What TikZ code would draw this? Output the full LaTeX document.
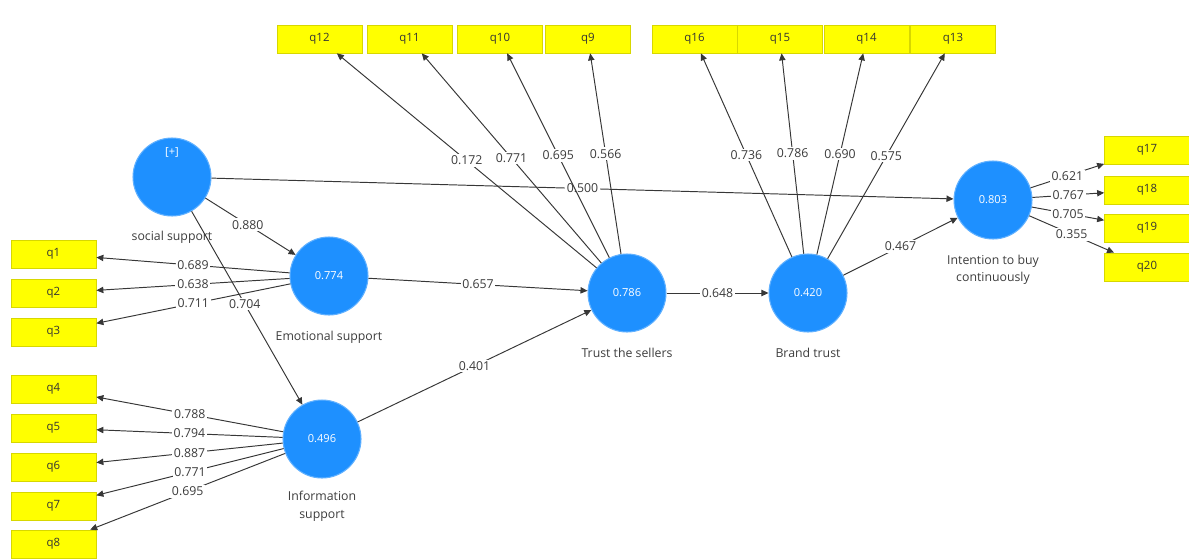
\documentclass[tikz,border=0pt]{standalone}
\usepackage{fontspec}
\setmainfont{Open Sans}
\usetikzlibrary{arrows.meta}
\definecolor{plsblue}{RGB}{30,144,255}
\definecolor{plsyellow}{RGB}{255,255,0}
\definecolor{boxline}{RGB}{215,215,0}
\definecolor{edgecol}{RGB}{55,55,55}
\definecolor{txtcol}{RGB}{60,60,60}
\begin{document}
\begin{tikzpicture}[x=0.02cm,y=-0.02cm,
  latent/.style={circle, fill=plsblue, draw=plsblue!70!white, line width=0.6pt,
    minimum size=1.56cm, inner sep=0pt, text=white, font=\fontsize{6.3}{7.5}\selectfont},
  ind/.style={rectangle, fill=plsyellow, draw=boxline, line width=0.4pt,
    minimum width=1.7cm, minimum height=0.56cm, inner sep=0pt,
    font=\fontsize{6.5}{8}\selectfont, text=black!80},
  captxt/.style={font=\fontsize{7}{10}\selectfont, text=txtcol, align=center},
  conn/.style={draw=edgecol, line width=0.55pt, -{Triangle[length=4pt,width=3.6pt]}},
  wt/.style={fill=white, inner sep=1pt, pos=0.5, font=\fontsize{7}{8}\selectfont, text=txtcol}
]
\useasboundingbox (0,0) rectangle (1189,558);

% latent variables
\node[latent] (soc) at (172,177) {};
\node[text=white, font=\fontsize{6.3}{7.5}\selectfont] (socplus) at (172,152) {[+]};
\node[latent] (emo) at (329,276) {0.774};
\node[latent] (inf) at (322,439) {0.496};
\node[latent] (tru) at (627,293) {0.786};
\node[latent] (bra) at (808,293) {0.420};
\node[latent] (int) at (993,200) {0.803};

% captions
\node[captxt] (socl) at (172,237) {social support};
\node[captxt] (emol) at (329,337) {Emotional support};
\node[captxt] (infl) at (322,506) {Information\\support};
\node[captxt] (trul) at (627,353) {Trust the sellers};
\node[captxt] (bral) at (808,353) {Brand trust};
\node[captxt] (intl) at (993,270) {Intention to buy\\continuously};

% indicators left
\node[ind] (q1) at (53.5,254) {q1};
\node[ind] (q2) at (53.5,293) {q2};
\node[ind] (q3) at (53.5,332) {q3};
\node[ind] (q4) at (53.5,389) {q4};
\node[ind] (q5) at (53.5,428) {q5};
\node[ind] (q6) at (53.5,467) {q6};
\node[ind] (q7) at (53.5,506) {q7};
\node[ind] (q8) at (53.5,544) {q8};
% indicators top
\node[ind] (q12) at (319.5,39) {q12};
\node[ind] (q11) at (409.5,39) {q11};
\node[ind] (q10) at (500,39) {q10};
\node[ind] (q9) at (588,39) {q9};
\node[ind] (q16) at (694.5,39) {q16};
\node[ind] (q15) at (780,39) {q15};
\node[ind] (q14) at (866.5,39) {q14};
\node[ind] (q13) at (953,39) {q13};
% indicators right
\node[ind] (q17) at (1147,150) {q17};
\node[ind] (q18) at (1147,190) {q18};
\node[ind] (q19) at (1147,228) {q19};
\node[ind] (q20) at (1147,267) {q20};

% structural paths
\draw[conn] (soc) -- node[wt]{0.500} (int);
\draw[conn] (soc) -- node[wt, pos=0.47]{0.880} (emo);
\draw[conn] (soc) -- node[wt, pos=0.48]{0.704} (inf);
\draw[conn] (emo) -- node[wt]{0.657} (tru);
\draw[conn] (inf) -- node[wt]{0.401} (tru);
\draw[conn] (tru) -- node[wt]{0.648} (bra);
\draw[conn] (bra) -- node[wt]{0.467} (int);

% outer loadings
\draw[conn] (emo) -- node[wt]{0.689} (q1);
\draw[conn] (emo) -- node[wt]{0.638} (q2);
\draw[conn] (emo) -- node[wt]{0.711} (q3);
\draw[conn] (inf) -- node[wt]{0.788} (q4);
\draw[conn] (inf) -- node[wt]{0.794} (q5);
\draw[conn] (inf) -- node[wt]{0.887} (q6);
\draw[conn] (inf) -- node[wt]{0.771} (q7);
\draw[conn] (inf) -- node[wt]{0.695} (q8);
\draw[conn] (tru) -- node[wt]{0.172} (q12);
\draw[conn] (tru) -- node[wt]{0.771} (q11);
\draw[conn] (tru) -- node[wt]{0.695} (q10);
\draw[conn] (tru) -- node[wt]{0.566} (q9);
\draw[conn] (bra) -- node[wt]{0.736} (q16);
\draw[conn] (bra) -- node[wt]{0.786} (q15);
\draw[conn] (bra) -- node[wt]{0.690} (q14);
\draw[conn] (bra) -- node[wt]{0.575} (q13);
\draw[conn] (int) -- node[wt]{0.621} (q17);
\draw[conn] (int) -- node[wt]{0.767} (q18);
\draw[conn] (int) -- node[wt]{0.705} (q19);
\draw[conn] (int) -- node[wt]{0.355} (q20);
\end{tikzpicture}
\end{document}
